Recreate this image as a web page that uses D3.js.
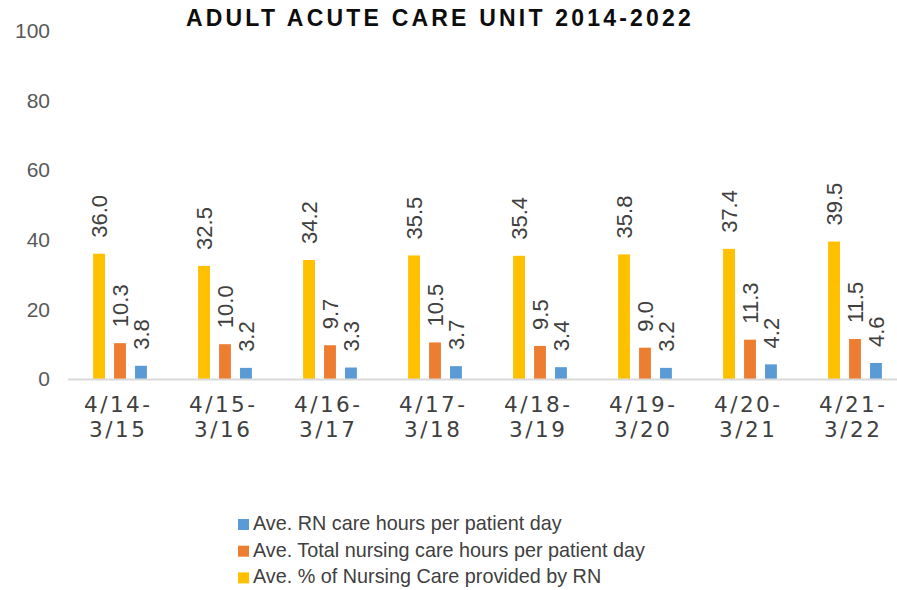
<!DOCTYPE html>
<html>
<head>
<meta charset="utf-8">
<script src="https://cdn.jsdelivr.net/npm/d3@7/dist/d3.min.js"></script>
<style>
  html, body { margin: 0; padding: 0; background: #fff; }
  svg { display: block; font-family: "Liberation Sans", Arial, sans-serif; }
</style>
</head>
<body>
<svg id="chart" width="897" height="590"></svg>
<script>
const title = "ADULT ACUTE CARE UNIT 2014-2022";
const categoriesLine1 = ["4/14-", "4/15-", "4/16-", "4/17-", "4/18-", "4/19-", "4/20-", "4/21-"];
const categoriesLine2 = ["3/15", "3/16", "3/17", "3/18", "3/19", "3/20", "3/21", "3/22"];
const seriesNames = [
  "Ave. % of Nursing Care provided by RN",
  "Ave. Total nursing care hours per patient day",
  "Ave. RN care hours per patient day"
];
const seriesColors = ["#FFC000", "#ED7D31", "#5B9BD5"];
const pctNursingByRN = [36.0, 32.5, 34.2, 35.5, 35.4, 35.8, 37.4, 39.5];
const totalNursingHours = [10.3, 10.0, 9.7, 10.5, 9.5, 9.0, 11.3, 11.5];
const rnCareHours = [3.8, 3.2, 3.3, 3.7, 3.4, 3.2, 4.2, 4.6];
const yTicks = [0, 20, 40, 60, 80, 100];

const seriesValues = [pctNursingByRN, totalNursingHours, rnCareHours];
const categories = categoriesLine1.map((d, i) => d + " " + categoriesLine2[i]);

const svg = d3.select("#chart");

const x0 = d3.scaleBand().domain(categories).range([67.5, 907.5]).padding(0);
const x1 = d3.scaleBand().domain(d3.range(seriesNames.length)).range([25.6, 79.4]).paddingInner(0.434).paddingOuter(0);
const y = d3.scaleLinear().domain([0, 100]).range([379, 31]);

// Title
svg.append("text")
  .attr("x", 440).attr("y", 26)
  .attr("text-anchor", "middle")
  .attr("font-size", 23).attr("font-weight", "bold")
  .attr("letter-spacing", "3.2px")
  .attr("fill", "#0d0d0d")
  .text(title);

// Y axis (labels only)
const yAxis = d3.axisLeft(y).tickValues(yTicks).tickSize(0).tickPadding(0).tickFormat(d3.format("d"));
const yg = svg.append("g").attr("transform", "translate(50,0)").call(yAxis);
yg.select(".domain").remove();
yg.selectAll("text").attr("font-size", 21).attr("fill", "#595959")
  .attr("font-family", "'Liberation Sans', Arial, sans-serif");

// Bars
const groups = svg.append("g").selectAll("g")
  .data(categories)
  .join("g")
  .attr("transform", d => `translate(${x0(d)},0)`);

groups.each(function(cat, ci) {
  const g = d3.select(this);
  seriesValues.forEach((vals, si) => {
    const v = vals[ci];
    g.append("rect")
      .attr("x", x1(si))
      .attr("y", y(v))
      .attr("width", x1.bandwidth())
      .attr("height", y(0) - y(v))
      .attr("fill", seriesColors[si]);
    const cx = x1(si) + x1.bandwidth() / 2;
    const ty = y(v) - 16;
    g.append("text")
      .attr("transform", `translate(${cx + 7.8},${ty}) rotate(-90)`)
      .attr("text-anchor", "start")
      .attr("font-size", 22)
      .attr("fill", "#404040")
      .text(d3.format(".1f")(v));
  });
});

// X axis line
svg.append("line")
  .attr("x1", 68).attr("x2", 897)
  .attr("y1", y(0) + 0.5).attr("y2", y(0) + 0.5)
  .attr("stroke", "#d9d9d9").attr("stroke-width", 2);

// Category labels
const catG = svg.append("g");
const catSpacing = 2.5;
categories.forEach((c, i) => {
  const cx = x0(c) + x0.bandwidth() / 2 - 3 + catSpacing / 2;
  const t = catG.append("text")
    .attr("text-anchor", "middle")
    .attr("font-family", "'DejaVu Sans', sans-serif")
    .attr("font-size", 21.5)
    .attr("letter-spacing", catSpacing + "px")
    .attr("fill", "#404040");
  t.append("tspan").attr("x", cx).attr("y", 412).text(categoriesLine1[i]);
  t.append("tspan").attr("x", cx).attr("y", 437).text(categoriesLine2[i]);
});

// Legend
const legendOrder = [2, 1, 0];
const legend = svg.append("g");
legendOrder.forEach((si, k) => {
  const base = 530 + k * 26.7;
  legend.append("rect")
    .attr("x", 238).attr("y", base - 11)
    .attr("width", 11).attr("height", 11)
    .attr("fill", seriesColors[si]);
  legend.append("text")
    .attr("x", 253).attr("y", base)
    .attr("font-size", 19.8)
    .attr("fill", "#404040")
    .text(seriesNames[si]);
});
</script>
</body>
</html>
